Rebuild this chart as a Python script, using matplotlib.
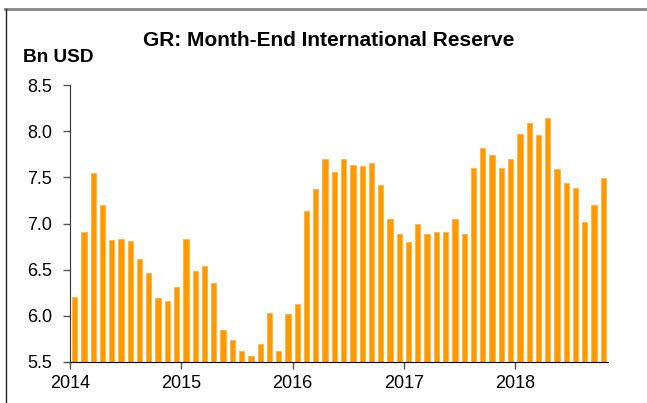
import matplotlib
matplotlib.use("Agg")
import matplotlib.pyplot as plt
from matplotlib.lines import Line2D

plt.rcParams['font.family'] = ['Liberation Sans', 'DejaVu Sans']

title = "GR: Month-End International Reserve"
unit_label = "Bn USD"
year_labels = ["2014", "2015", "2016", "2017", "2018"]
yticks = [5.5, 6.0, 6.5, 7.0, 7.5, 8.0, 8.5]

# Monthly values Jan 2014 .. Oct 2018
reserves = [
    6.20, 6.91, 7.55, 7.20, 6.82, 6.83, 6.81, 6.62, 6.46, 6.19, 6.16, 6.31,
    6.83, 6.49, 6.54, 6.36, 5.85, 5.74, 5.62, 5.57, 5.70, 6.03, 5.62, 6.02,
    6.13, 7.14, 7.37, 7.70, 7.56, 7.70, 7.63, 7.62, 7.66, 7.42, 7.05, 6.89,
    6.80, 6.99, 6.89, 6.91, 6.91, 7.05, 6.89, 7.60, 7.82, 7.74, 7.60, 7.70,
    7.97, 8.09, 7.96, 8.14, 7.59, 7.44, 7.38, 7.02, 7.20, 7.49,
]

W, H = 647, 403
fig = plt.figure(figsize=(W / 100, H / 100), dpi=100)
ax = fig.add_axes([70 / W, 1 - 362 / H, (608 - 70) / W, (362 - 85) / H])

xs = [i + 0.5 for i in range(len(reserves))]
base = yticks[0]
ax.bar(xs, [v - base for v in reserves], bottom=base, width=0.57,
       color="#FF9900", edgecolor="#FFB340", linewidth=0.6, zorder=2)

ax.set_xlim(0, len(reserves))
ax.set_ylim(yticks[0], yticks[-1])
ax.set_yticks(yticks)
ax.set_yticklabels([f"{t:.1f}" for t in yticks])
ax.set_xticks([12 * i for i in range(len(year_labels))])
ax.set_xticklabels(year_labels)

for s in ["top", "right"]:
    ax.spines[s].set_visible(False)
ax.spines["left"].set_color("#333333")
ax.spines["bottom"].set_color("#000000")
ax.tick_params(axis="both", direction="out", length=5, width=1,
               color="#555555", labelsize=13, labelcolor="#000000")
ax.tick_params(axis="y", pad=8)
ax.tick_params(axis="x", pad=4)

fig.text(329 / W, 1 - 40 / H, title, ha="center", va="center",
         fontsize=15, fontweight="bold")
fig.text(23 / W, 1 - 57 / H, unit_label, ha="left", va="center",
         fontsize=13.7, fontweight="bold")

# frame lines
fig.add_artist(Line2D([5 / W, 1], [1 - 9 / H, 1 - 9 / H], color="#888888",
                      lw=2, transform=fig.transFigure))
fig.add_artist(Line2D([5.5 / W, 5.5 / W], [0, 1 - 9 / H], color="#222222",
                      lw=1, transform=fig.transFigure))

fig.savefig("out.png", dpi=100)
